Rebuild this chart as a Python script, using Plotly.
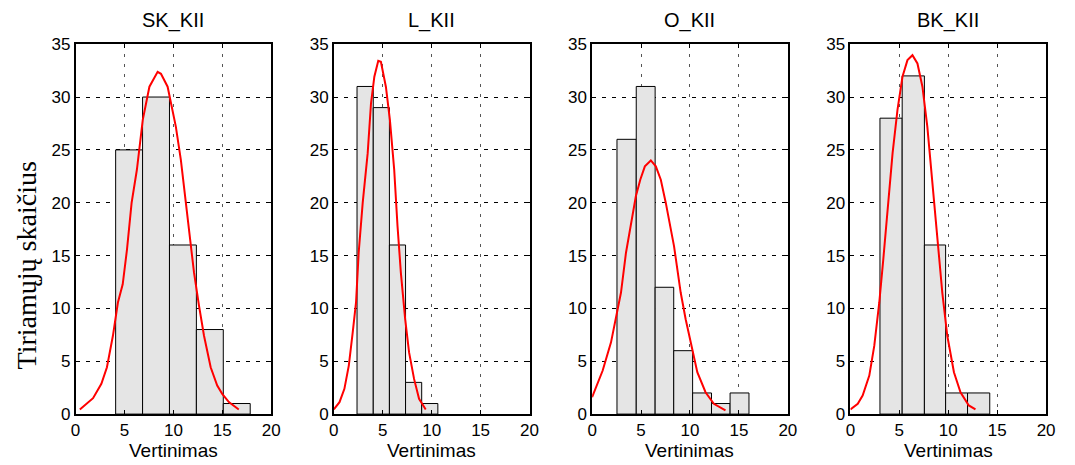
import plotly.graph_objects as go

# ---- data ----
titles = ["SK_KII", "L_KII", "O_KII", "BK_KII"]

sk_edges = [4.1, 6.85, 9.6, 12.35, 15.1, 17.85]
sk_counts = [25, 30, 16, 8, 1]
sk_curve_x = [0.44, 1.79, 2.64, 3.21, 3.82, 4.33, 4.82, 5.26, 5.73, 6.27, 6.87, 7.55, 8.39, 8.73,
              9.41, 10.25, 10.76, 11.44, 12.11, 12.62, 13.13, 13.81, 14.48, 14.99, 15.67, 16.68]
sk_curve_y = [0.44, 1.51, 2.86, 4.43, 7.41, 10.56, 12.28, 15.58, 19.98, 23.12, 27.84, 30.98, 32.39, 32.2,
              30.98, 27.2, 24.07, 18.41, 13.38, 10.24, 7.41, 4.43, 2.70, 1.92, 1.13, 0.44]

l_edges = [2.37, 4.03, 5.68, 7.33, 8.98, 10.63]
l_counts = [31, 29, 16, 3, 1]
l_curve_x = [0.0, 0.58, 1.08, 1.53, 1.93, 2.27, 2.54, 2.95, 3.46, 3.80, 4.14, 4.54, 4.81,
             5.32, 5.73, 6.17, 6.51, 6.85, 7.29, 7.69, 8.20, 8.71, 9.39]
l_curve_y = [0.44, 1.13, 2.39, 4.59, 7.73, 10.56, 15.27, 19.98, 24.69, 29.41, 31.92, 33.43, 33.33,
             30.98, 27.84, 23.12, 17.78, 13.38, 8.98, 5.84, 3.33, 1.45, 0.44]

o_edges = [2.54, 4.51, 6.44, 8.34, 10.27, 12.20, 14.10, 16.03]
o_counts = [26, 31, 12, 6, 2, 1, 2]
o_curve_x = [0.0, 1.08, 1.93, 2.44, 2.95, 3.46, 3.90, 4.47, 4.92, 5.39, 6.0, 6.51, 7.02, 7.53,
             8.37, 9.05, 9.56, 10.07, 10.75, 11.59, 12.44, 13.63]
o_curve_y = [1.60, 4.12, 6.79, 8.98, 11.50, 15.27, 17.78, 20.61, 22.18, 23.44, 24.0, 23.44, 22.18, 19.98,
             15.90, 11.50, 8.98, 6.79, 3.96, 2.07, 0.97, 0.35]

bk_edges = [3.02, 5.29, 7.56, 9.73, 11.97, 14.24]
bk_counts = [28, 32, 16, 2, 2]
bk_curve_x = [0.0, 0.75, 1.25, 1.93, 2.44, 2.95, 3.36, 3.80, 4.31, 4.81, 5.32, 5.83, 6.34, 6.85,
              7.36, 7.86, 8.37, 8.88, 9.39, 9.90, 10.58, 11.25, 12.10, 12.78]
bk_curve_y = [0.44, 0.97, 1.76, 3.64, 6.47, 10.56, 14.64, 19.67, 24.69, 28.78, 31.92, 33.49, 33.96, 33.18,
              30.98, 27.2, 22.18, 16.84, 11.50, 7.41, 3.96, 2.07, 0.82, 0.44]

x_ticks = [0, 5, 10, 15, 20]
y_ticks = [0, 5, 10, 15, 20, 25, 30, 35]
x_label = "Vertinimas"
y_label = "Tiriamųjų skaičius"

panels = [
    (sk_edges, sk_counts, sk_curve_x, sk_curve_y),
    (l_edges, l_counts, l_curve_x, l_curve_y),
    (o_edges, o_counts, o_curve_x, o_curve_y),
    (bk_edges, bk_counts, bk_curve_x, bk_curve_y),
]

W, H = 1075, 465


# map a target screen pixel to paper fraction (compensates the observed render offset/scale)
def fx(px):
    return ((px - 3.0) / 0.9935) / W


def fy(py):
    return 1 - ((py - 8.7) / 0.962) / H


px_domains = [(74, 271), (334, 531), (594, 791), (854, 1051)]
y_dom = [fy(415), fy(44)]

fig = go.Figure()
layout = dict(
    width=W, height=H, autosize=False,
    margin=dict(l=0, r=0, t=0, b=0, pad=0),
    paper_bgcolor="white", plot_bgcolor="white",
    showlegend=False,
    font=dict(family="Liberation Sans, Arial, sans-serif", color="black", size=16),
    annotations=[],
)

for i, (edges, counts, cx, cy) in enumerate(panels):
    n = i + 1
    xa = "x" if n == 1 else f"x{n}"
    ya = "y" if n == 1 else f"y{n}"
    centers = [(edges[k] + edges[k + 1]) / 2 for k in range(len(counts))]
    widths = [edges[k + 1] - edges[k] for k in range(len(counts))]
    fig.add_trace(go.Bar(x=centers, y=counts, width=widths, xaxis=xa, yaxis=ya,
                         marker=dict(color="#e5e5e5", line=dict(color="black", width=1))))
    fig.add_trace(go.Scatter(x=cx, y=cy, mode="lines", xaxis=xa, yaxis=ya,
                             line=dict(color="red", width=2)))
    d0, d1 = px_domains[i]
    xkey = "xaxis" if n == 1 else f"xaxis{n}"
    ykey = "yaxis" if n == 1 else f"yaxis{n}"
    layout[xkey] = dict(
        domain=[fx(d0), fx(d1)], anchor=ya, range=[0, 20],
        tickvals=x_ticks, ticks="inside", ticklen=4, tickcolor="black",
        showline=True, linecolor="black", linewidth=1.5, mirror="ticks",
        showgrid=True, gridcolor="#555555", griddash="3px,7px", gridwidth=1,
        zeroline=False, tickfont=dict(size=17),
    )
    layout[ykey] = dict(
        domain=y_dom, anchor=xa, range=[0, 35],
        tickvals=y_ticks, ticks="inside", ticklen=4, tickcolor="black",
        showline=True, linecolor="black", linewidth=1.5, mirror="ticks",
        showgrid=True, gridcolor="black", griddash="4px,6px", gridwidth=1,
        zeroline=False, tickfont=dict(size=17),
    )
    cxp = fx((d0 + d1) / 2)
    layout["annotations"].append(dict(text=titles[i], x=cxp, y=fy(20), xref="paper", yref="paper",
                                      showarrow=False, font=dict(size=20), xanchor="center", yanchor="middle"))
    layout["annotations"].append(dict(text=x_label, x=cxp, y=fy(452), xref="paper", yref="paper",
                                      showarrow=False, font=dict(size=19), xanchor="center", yanchor="middle"))

layout["annotations"].append(dict(text=y_label, x=fx(25), y=fy(266), xref="paper", yref="paper",
                                  showarrow=False, textangle=-90,
                                  font=dict(size=28, family="Liberation Serif, Times New Roman, serif"),
                                  xanchor="center", yanchor="middle"))

fig.update_layout(**layout)
fig.write_html("out.html")
